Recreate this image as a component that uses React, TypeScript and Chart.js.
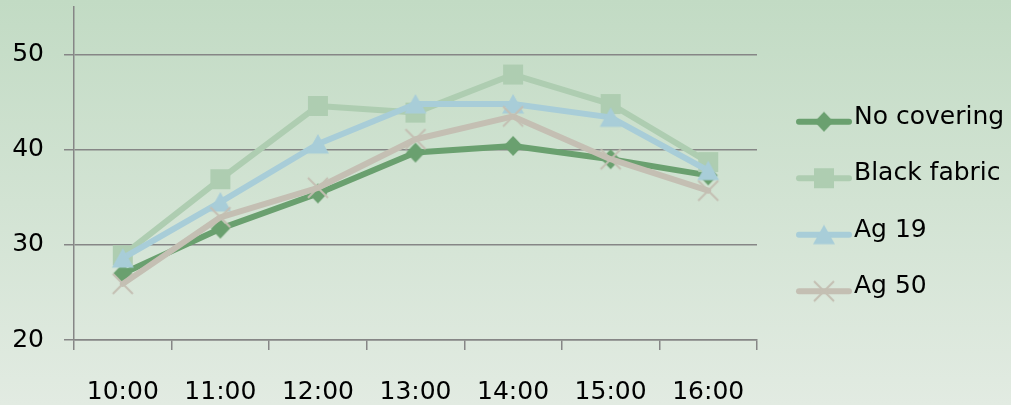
import React, { useEffect, useRef } from 'react';
import { Chart, registerables } from 'chart.js';

Chart.register(...registerables);

const categories = ['10:00', '11:00', '12:00', '13:00', '14:00', '15:00', '16:00'];
const seriesNames = ['No covering', 'Black fabric', 'Ag 19', 'Ag 50'];
const noCovering = [27.0, 31.7, 35.4, 39.7, 40.4, 39.0, 37.3];
const blackFabric = [28.9, 36.9, 44.6, 43.9, 47.9, 44.8, 38.7];
const ag19 = [28.6, 34.5, 40.6, 44.8, 44.8, 43.4, 37.8];
const ag50 = [25.9, 32.9, 36.0, 41.1, 43.5, 39.0, 35.7];
const yTicks = [20, 30, 40, 50];
const yMin = 20;
const yMax = 55;

const FONT = '"DejaVu Sans", Verdana, sans-serif';
const AXIS_COLOR = '#868686';
const colors = ['#6aa06f', '#aecdb1', '#a8cdd8', '#c4bfb3'];
const markerKinds = ['diamond', 'square', 'triangle', 'cross'];

function makeMarker(kind: string, color: string): HTMLCanvasElement {
  const c = document.createElement('canvas');
  const size = 26;
  c.width = size;
  c.height = size;
  const ctx = c.getContext('2d')!;
  const m = size / 2;
  ctx.fillStyle = color;
  ctx.strokeStyle = color;
  ctx.beginPath();
  if (kind === 'diamond') {
    ctx.moveTo(m, m - 10);
    ctx.lineTo(m + 9.5, m);
    ctx.lineTo(m, m + 10);
    ctx.lineTo(m - 9.5, m);
    ctx.closePath();
    ctx.fill();
  } else if (kind === 'square') {
    ctx.rect(m - 10, m - 10, 20, 20);
    ctx.fill();
  } else if (kind === 'triangle') {
    ctx.moveTo(m, m - 10);
    ctx.lineTo(m + 11, m + 9.5);
    ctx.lineTo(m - 11, m + 9.5);
    ctx.closePath();
    ctx.fill();
  } else {
    ctx.lineWidth = 2;
    ctx.moveTo(m - 10, m - 10);
    ctx.lineTo(m + 10, m + 10);
    ctx.moveTo(m + 10, m - 10);
    ctx.lineTo(m - 10, m + 10);
    ctx.stroke();
  }
  return c;
}

const legendPlugin = {
  id: 'customLegend',
  afterDraw(chart: any) {
    const ctx = chart.ctx;
    const x0 = chart.chartArea.right + 39;
    const spacing = 56.5;
    const y0 = chart.height / 2 - 1.5 * spacing + 4;
    chart.data.datasets.forEach((ds: any, i: number) => {
      const y = y0 + i * spacing;
      ctx.save();
      ctx.strokeStyle = ds.borderColor;
      ctx.lineWidth = ds.borderWidth;
      ctx.lineCap = 'round';
      ctx.beginPath();
      ctx.moveTo(x0 + 3, y);
      ctx.lineTo(x0 + 53, y);
      ctx.stroke();
      const img = ds.pointStyle as HTMLCanvasElement;
      ctx.drawImage(img, x0 + 28 - img.width / 2, y - img.height / 2);
      ctx.fillStyle = '#000';
      ctx.font = `25px ${FONT}`;
      ctx.textBaseline = 'middle';
      ctx.textAlign = 'left';
      ctx.fillText(ds.label, x0 + 58, y - 4.5);
      ctx.restore();
    });
  },
};

export default function App() {
  const canvasRef = useRef<HTMLCanvasElement | null>(null);

  useEffect(() => {
    const canvas = canvasRef.current;
    if (!canvas) return;
    const seriesValues = [noCovering, blackFabric, ag19, ag50];
    const datasets = seriesNames.map((name, i) => {
      const marker = makeMarker(markerKinds[i], colors[i]);
      return {
        label: name,
        data: seriesValues[i],
        borderColor: colors[i],
        backgroundColor: colors[i],
        borderWidth: 6,
        borderJoinStyle: 'round' as const,
        borderCapStyle: 'round' as const,
        tension: 0,
        pointStyle: marker,
        pointRadius: 10,
        pointHoverRadius: 10,
        order: seriesNames.length - i,
      };
    });

    const chart = new Chart(canvas, {
      type: 'line',
      data: { labels: categories, datasets },
      options: {
        animation: false,
        responsive: false,
        layout: { autoPadding: false, padding: { left: 11, right: 254, top: 7, bottom: 0 } },
        plugins: {
          legend: { display: false },
          tooltip: { enabled: false },
        },
        scales: {
          x: {
            type: 'category',
            offset: true,
            grid: {
              display: true,
              offset: true,
              drawOnChartArea: false,
              drawTicks: true,
              tickLength: 10,
              color: AXIS_COLOR,
              lineWidth: 1.5,
            },
            border: { display: true, color: AXIS_COLOR, width: 1.5 },
            ticks: {
              color: '#000',
              font: { size: 25, family: FONT },
              padding: 27,
              maxRotation: 0,
              autoSkip: false,
            },
            afterFit: (s: any) => {
              s.height = 65;
              s.paddingLeft = 0;
              s.paddingRight = 0;
            },
          },
          y: {
            type: 'linear',
            min: yMin,
            max: yMax,
            afterBuildTicks: (s: any) => {
              s.ticks = yTicks.map((v) => ({ value: v }));
            },
            grid: {
              color: AXIS_COLOR,
              lineWidth: 1.5,
              tickLength: 10,
              drawTicks: true,
            },
            border: { display: true, color: AXIS_COLOR, width: 1.5 },
            ticks: {
              color: '#000',
              font: { size: 25, family: FONT, lineHeight: 0.4 },
              padding: 20,
            },
            afterFit: (s: any) => {
              s.width = 63;
              s.paddingTop = 0;
              s.paddingBottom = 0;
            },
          },
        },
      },
      plugins: [legendPlugin],
    });
    return () => chart.destroy();
  }, []);

  return (
    <div
      style={{
        position: 'absolute',
        left: 0,
        top: 0,
        width: 1011,
        height: 405,
        background: 'linear-gradient(to bottom, #c2dbc4, #e2ebe2)',
      }}
    >
      <canvas ref={canvasRef} width={1011} height={405} style={{ display: 'block' }} />
    </div>
  );
}
